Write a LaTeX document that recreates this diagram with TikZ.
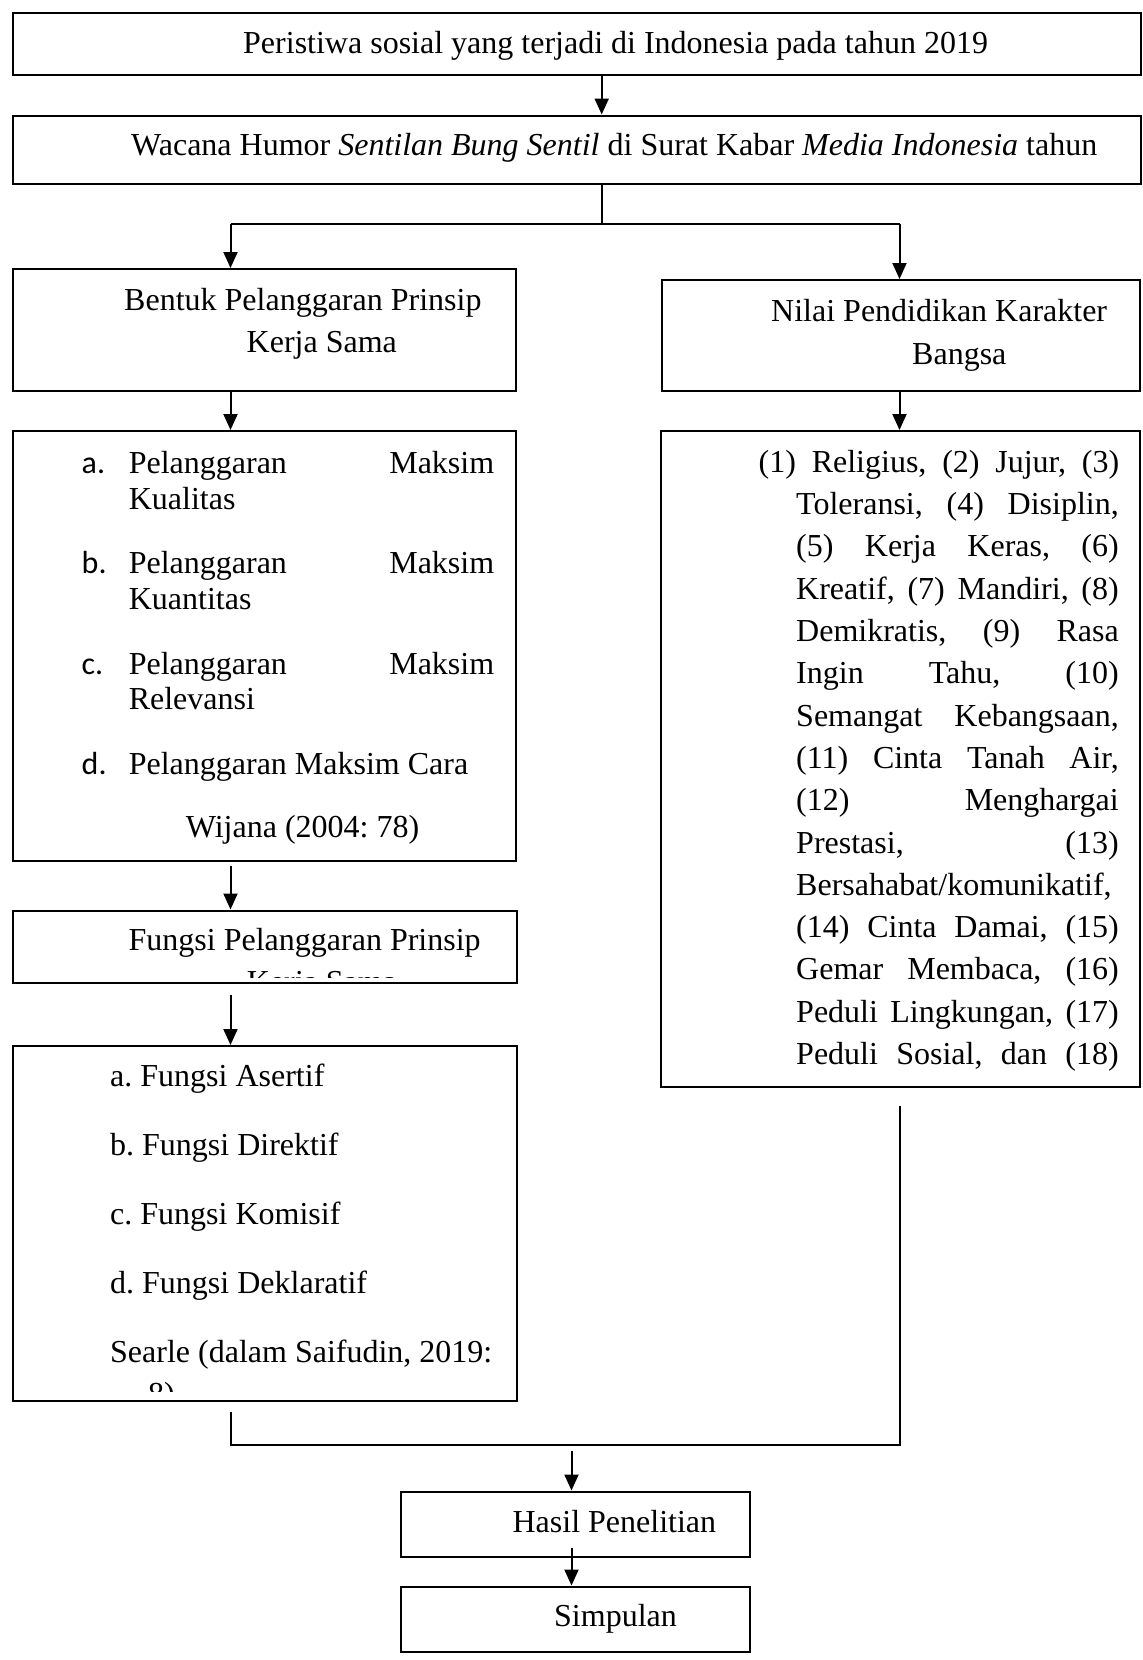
\documentclass[tikz,border=0pt]{standalone}
\usepackage{fontspec}
\setmainfont{Liberation Serif}
\newfontfamily\calib{Carlito}
\usetikzlibrary{arrows.meta,calc}
\newcommand\jstline[4]{\node[txt] (#1) at (#2,#3) {\makebox[322.6pt][s]{#4}};}
\begin{document}
\begin{tikzpicture}[x=1pt,y=-1pt,
  box/.style={draw, line width=2pt, rectangle, inner sep=0pt},
  txt/.style={anchor=base west, inner sep=0pt, font=\fontsize{32}{42.3}\selectfont\frenchspacing},
  ln/.style={line width=2pt},
  arr/.style={line width=2pt, -{Triangle[length=16pt,width=14pt]}}]
\useasboundingbox (0,0) rectangle (1143,1660);
% boxes
\node[box, minimum width=1128pt, minimum height=62pt] (top) at (577,43.5) {};
\node[box, minimum width=1128pt, minimum height=68pt] (wac) at (577,149.5) {};
\node[box, minimum width=503pt, minimum height=122pt] (bentuk) at (264.5,330) {};
\node[box, minimum width=478pt, minimum height=111pt] (nilai) at (901,335.5) {};
\node[box, minimum width=502.5pt, minimum height=429.5pt] (list1) at (264.25,645.75) {};
\node[box, minimum width=503.5pt, minimum height=72pt] (fungsi) at (264.75,946.5) {};
\node[box, minimum width=503.5pt, minimum height=354.5pt] (list2) at (264.75,1223.25) {};
\node[box, minimum width=479pt, minimum height=656pt] (list3) at (900.5,759) {};
\node[box, minimum width=349pt, minimum height=65pt] (hasil) at (575.5,1524) {};
\node[box, minimum width=349pt, minimum height=65pt] (simp) at (575.5,1619) {};
% texts
\node[txt] (t1) at (243,53.3) {Peristiwa sosial yang terjadi di Indonesia pada tahun 2019};
\node[txt] (t2) at (131,155.7) {Wacana Humor \textit{Sentilan Bung Sentil} di Surat Kabar \textit{Media Indonesia} tahun};
\node[txt] (t3a) at (124,310) {Bentuk Pelanggaran Prinsip};
\node[txt] (t3b) at (246.5,352.7) {Kerja Sama};
\node[txt] (t4a) at (771,321.7) {Nilai Pendidikan Karakter};
\node[txt] (t4b) at (912,364) {Bangsa};
% list 1
\node[txt] (la) at (81.5,473) {\calib a.};
\node[txt] (la1) at (128.6,473) {\makebox[365.4pt][s]{Pelanggaran \hfill Maksim}};
\node[txt] (la2) at (128.6,509) {Kualitas};
\node[txt] (lb) at (81.5,573.5) {\calib b.};
\node[txt] (lb1) at (128.6,573.5) {\makebox[365.4pt][s]{Pelanggaran \hfill Maksim}};
\node[txt] (lb2) at (128.6,609.5) {Kuantitas};
\node[txt] (lc) at (81.5,674) {\calib c.};
\node[txt] (lc1) at (128.6,674) {\makebox[365.4pt][s]{Pelanggaran \hfill Maksim}};
\node[txt] (lc2) at (128.6,709.5) {Relevansi};
\node[txt] (ld) at (81.5,774.5) {\calib d.};
\node[txt] (ld1) at (128.6,774.5) {Pelanggaran Maksim Cara};
\node[txt] (lw) at (185.7,837.8) {Wijana (2004: 78)};
% fungsi
\node[txt] (t5a) at (128.5,950) {Fungsi Pelanggaran Prinsip};
\begin{scope}
\clip (14,912) rectangle (515,977);
\node[txt] (t5b) at (246.7,992.3) {Kerja Sama};
\end{scope}
% list 2
\node[txt] (fa) at (110,1086.7) {a. Fungsi Asertif};
\node[txt] (fb) at (110,1155) {b. Fungsi Direktif};
\node[txt] (fc) at (110,1224) {c. Fungsi Komisif};
\node[txt] (fd) at (110,1293.3) {d. Fungsi Deklaratif};
\node[txt] (fs) at (110,1362.3) {Searle (dalam Saifudin, 2019:};
\begin{scope}
\clip (14,1340) rectangle (515,1391.5);
\node[txt] (fs2) at (148,1404.6) {8)};
\end{scope}
% list 3
\node[txt] (r1) at (758.5,472.3) {\makebox[360.5pt][s]{(1) Religius, (2) Jujur, (3)}};
\jstline{r2}{796}{514.6}{Toleransi, (4) Disiplin,}
\jstline{r3}{796}{556.9}{(5) Kerja Keras, (6)}
\jstline{r4}{796}{599.2}{Kreatif, (7) Mandiri, (8)}
\jstline{r5}{796}{641.5}{Demikratis, (9) Rasa}
\jstline{r6}{796}{683.8}{Ingin Tahu, (10)}
\jstline{r7}{796}{726.1}{Semangat Kebangsaan,}
\jstline{r8}{796}{768.4}{(11) Cinta Tanah Air,}
\jstline{r9}{796}{810.7}{(12) Menghargai}
\jstline{r10}{796}{853}{Prestasi, (13)}
\node[txt] (r11) at (796,895.3) {Bersahabat/komunikatif,};
\jstline{r12}{796}{937.6}{(14) Cinta Damai, (15)}
\jstline{r13}{796}{979.9}{Gemar Membaca, (16)}
\jstline{r14}{796}{1022.2}{Peduli Lingkungan, (17)}
\jstline{r15}{796}{1064.5}{Peduli Sosial, dan (18)}
% bottom
\node[txt] (t6) at (512.4,1532.7) {Hasil Penelitian};
\node[txt] (t7) at (554,1626.7) {Simpulan};
% connectors
\coordinate (xT) at (601.7,0);
\coordinate (xL) at (230.5,0);
\coordinate (xR) at (899.5,0);
\coordinate (xM) at (571.5,0);
\coordinate (split) at (601.7,224);
\coordinate (splitL) at (230.5,224);
\coordinate (splitR) at (899.5,224);
\coordinate (jL) at (230.5,1445);
\coordinate (jR) at (899.5,1445);
\draw[arr] (top.south -| xT) -- (wac.north -| xT);
\draw[ln] (wac.south -| xT) -- (split);
\draw[ln] (splitL) -- (splitR);
\draw[arr] (splitL) -- (bentuk.north -| splitL);
\draw[arr] (splitR) -- (nilai.north -| splitR);
\draw[arr] (bentuk.south -| xL) -- (list1.north -| xL);
\draw[arr] (nilai.south -| xR) -- (list3.north -| xR);
\draw[arr] ($(list1.south -| xL)+(0,4)$) -- (fungsi.north -| xL);
\draw[arr] ($(fungsi.south -| xL)+(0,11)$) -- (list2.north -| xL);
\draw[ln] ($(list2.south -| jL)+(0,10)$) -- (jL) -- (jR) -- ($(list3.south -| jR)+(0,18)$);
\draw[arr] ($(jL -| xM)+(0,5.5)$) -- (hasil.north -| xM);
\draw[arr] ($(hasil.south -| xM)+(0,-10)$) -- (simp.north -| xM);
\end{tikzpicture}
\end{document}
